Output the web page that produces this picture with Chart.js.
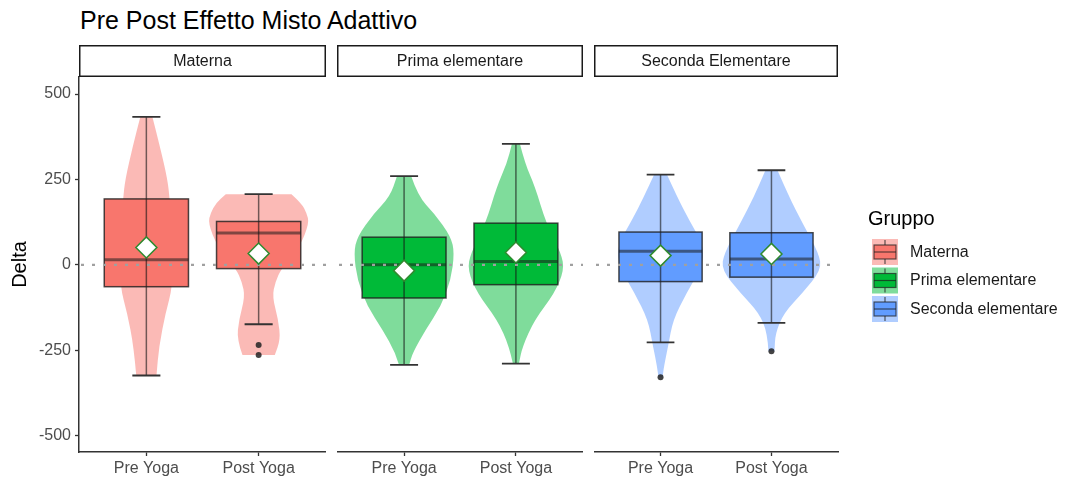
<!DOCTYPE html>
<html>
<head>
<meta charset="utf-8">
<script src="https://cdn.jsdelivr.net/npm/chart.js@4.4.1/dist/chart.umd.min.js"></script>
<style>
  body { margin: 0; background: #fff; font-family: "Liberation Sans", Arial, sans-serif; }
  #wrap { position: relative; width: 1071px; height: 484px; overflow: hidden; }
  #title { position: absolute; left: 80px; top: 6px; font-size: 25px; color: #000; white-space: nowrap; }
  canvas { position: absolute; top: 45px; }
</style>
</head>
<body>
<div id="wrap">
  <div id="title">Pre Post Effetto Misto Adattivo</div>
  <canvas id="c0" width="326" height="439" style="left:0px"></canvas>
  <canvas id="c1" width="246" height="439" style="left:337px"></canvas>
  <canvas id="c2" width="477" height="439" style="left:594px"></canvas>
</div>
<script>
const facets = ["Materna", "Prima elementare", "Seconda Elementare"];
const legendLabels = ["Materna", "Prima elementare", "Seconda elementare"];
const phases = ["Pre Yoga", "Post Yoga"];
const yTicks = [-500, -250, 0, 250, 500];

const colors = ["#F8766D", "#00BA38", "#619CFF"];
const violinColors = ["rgba(248,118,109,0.5)", "rgba(0,186,56,0.5)", "rgba(97,156,255,0.5)"];

// boxplot stats, per group: [Pre Yoga, Post Yoga]
const lowWhisker = [[-324, -174], [-293, -289], [-227, -170]];
const q1 = [[-64, -11], [-97, -58], [-49, -36]];
const median = [[15, 93], [0, 10], [40, 17]];
const q3 = [[193, 127], [81, 122], [96, 94]];
const highWhisker = [[433, 207], [260, 354], [264, 277]];
const means = [[51, 33], [-17, 36], [27, 32]];
const outliers = [[[], [-235, -264]], [[], []], [[-329], [-253]]];

// violin outline: y values and relative density (1 = widest violin)
const violinY = [
  [[433, 346, 249, 193, 120, 60, -64, -141, -239, -324],
   [207, 180, 152, 122, 54, -11, -50, -93, -161, -219, -264]],
  [[260, 200, 151, 83, 35, -44, -122, -190, -258, -293],
   [354, 297, 229, 122, 34, -15, -83, -161, -239, -289]],
  [[264, 200, 132, 54, -5, -83, -161, -239, -297, -329],
   [277, 200, 122, 34, -15, -83, -141, -200, -253]]
];
const violinD = [
  [[0.12, 0.27, 0.42, 0.46, 0.5, 0.52, 0.52, 0.38, 0.25, 0.2],
   [0.65, 0.85, 0.95, 1.0, 0.82, 0.45, 0.33, 0.27, 0.39, 0.43, 0.32]],
  [[0.14, 0.28, 0.6, 0.93, 1.0, 0.93, 0.73, 0.43, 0.17, 0.1],
   [0.08, 0.18, 0.38, 0.6, 0.9, 0.96, 0.77, 0.37, 0.13, 0.06]],
  [[0.13, 0.33, 0.57, 0.87, 0.83, 0.52, 0.25, 0.15, 0.07, 0.04],
   [0.12, 0.35, 0.62, 0.95, 1.0, 0.62, 0.25, 0.08, 0.06]]
];

Chart.defaults.font.family = '"Liberation Sans", Arial, sans-serif';

// smooth curve through points (first point already reached)
function smoothThrough(ctx, pts) {
  ctx.lineTo(pts[0].x, pts[0].y);
  for (let i = 1; i < pts.length - 1; i++) {
    const mx = (pts[i].x + pts[i + 1].x) / 2;
    const my = (pts[i].y + pts[i + 1].y) / 2;
    ctx.quadraticCurveTo(pts[i].x, pts[i].y, mx, my);
  }
  const last = pts[pts.length - 1];
  ctx.lineTo(last.x, last.y);
}

const facetPlugin = {
  id: "facet",
  beforeDatasetsDraw(chart, args, opts) {
    const g = opts.group;
    const { ctx, chartArea, scales: { x, y } } = chart;
    const unit = x.getPixelForValue(1) - x.getPixelForValue(0);
    ctx.save();
    for (let p = 0; p < 2; p++) {
      const cx = x.getPixelForValue(p + 1);
      // violin
      const hw = 0.45 * unit;
      const ys = violinY[g][p], ds = violinD[g][p];
      const right = ys.map((v, i) => ({ x: cx + ds[i] * hw, y: y.getPixelForValue(v) }));
      const left = ys.map((v, i) => ({ x: cx - ds[i] * hw, y: y.getPixelForValue(v) })).reverse();
      ctx.beginPath();
      ctx.moveTo(left[left.length - 1].x, left[left.length - 1].y);
      smoothThrough(ctx, right);
      smoothThrough(ctx, left);
      ctx.closePath();
      ctx.fillStyle = violinColors[g];
      ctx.fill();

      // box
      const bw = 0.375 * unit;
      const top = y.getPixelForValue(q3[g][p]);
      const bot = y.getPixelForValue(q1[g][p]);
      ctx.fillStyle = colors[g];
      ctx.fillRect(cx - bw, top, 2 * bw, bot - top);

      // median
      const my = y.getPixelForValue(median[g][p]);
      ctx.strokeStyle = "rgba(30,30,30,0.55)";
      ctx.lineWidth = 3;
      ctx.beginPath();
      ctx.moveTo(cx - bw, my);
      ctx.lineTo(cx + bw, my);
      ctx.stroke();

      // whisker line
      const wl = y.getPixelForValue(lowWhisker[g][p]);
      const wh = y.getPixelForValue(highWhisker[g][p]);
      ctx.strokeStyle = "rgba(20,20,20,0.6)";
      ctx.lineWidth = 1.5;
      ctx.beginPath();
      ctx.moveTo(cx, wl);
      ctx.lineTo(cx, wh);
      ctx.stroke();

      // box outline
      ctx.strokeStyle = "rgba(30,30,30,0.8)";
      ctx.lineWidth = 1.5;
      ctx.strokeRect(cx - bw, top, 2 * bw, bot - top);

      // caps
      const cw = 0.125 * unit;
      ctx.strokeStyle = "#333";
      ctx.lineWidth = 1.8;
      ctx.beginPath();
      ctx.moveTo(cx - cw, wl); ctx.lineTo(cx + cw, wl);
      ctx.moveTo(cx - cw, wh); ctx.lineTo(cx + cw, wh);
      ctx.stroke();
    }
    // zero reference line
    const zy = y.getPixelForValue(0);
    ctx.strokeStyle = "#a0a0a0";
    ctx.lineWidth = 2.2;
    ctx.setLineDash([3, 8]);
    ctx.beginPath();
    ctx.moveTo(chartArea.left + 2, zy);
    ctx.lineTo(chartArea.right, zy);
    ctx.stroke();
    ctx.restore();
  },
  afterDraw(chart, args, opts) {
    const g = opts.group;
    const { ctx, chartArea } = chart;
    ctx.save();
    // facet strip
    ctx.fillStyle = "#fff";
    ctx.strokeStyle = "#1a1a1a";
    ctx.lineWidth = 1.5;
    ctx.fillRect(chartArea.left + 0.75, chartArea.top - 31.25, chartArea.width - 1.5, 30.5);
    ctx.strokeRect(chartArea.left + 0.75, chartArea.top - 31.25, chartArea.width - 1.5, 30.5);
    ctx.fillStyle = "#1a1a1a";
    ctx.font = '16px "Liberation Sans", Arial, sans-serif';
    ctx.textAlign = "center";
    ctx.textBaseline = "middle";
    ctx.fillText(facets[g], (chartArea.left + chartArea.right) / 2, chartArea.top - 15.5);

    // legend (last panel only)
    if (g === 2) {
      const lx = chartArea.right + 30;
      ctx.textAlign = "left";
      ctx.fillStyle = "#000";
      ctx.font = '20px "Liberation Sans", Arial, sans-serif';
      ctx.fillText("Gruppo", lx, 174);
      ctx.font = '16px "Liberation Sans", Arial, sans-serif';
      for (let i = 0; i < 3; i++) {
        const kx = lx + 4, ky = 194 + i * 28.5;
        ctx.fillStyle = violinColors[i];
        ctx.fillRect(kx, ky, 26, 26);
        ctx.strokeStyle = "rgba(30,30,30,0.7)";
        ctx.lineWidth = 1.2;
        ctx.beginPath();
        ctx.moveTo(kx + 13, ky + 1); ctx.lineTo(kx + 13, ky + 6);
        ctx.moveTo(kx + 13, ky + 20); ctx.lineTo(kx + 13, ky + 25);
        ctx.stroke();
        ctx.fillStyle = colors[i];
        ctx.fillRect(kx + 2, ky + 6, 22, 14);
        ctx.strokeRect(kx + 2, ky + 6, 22, 14);
        ctx.beginPath();
        ctx.moveTo(kx + 2, ky + 13); ctx.lineTo(kx + 24, ky + 13);
        ctx.stroke();
        ctx.fillStyle = "#1a1a1a";
        ctx.fillText(legendLabels[i], lx + 42, ky + 13.5);
      }
    }
    ctx.restore();
  }
};

function makeChart(g) {
  const outlierPts = [];
  outliers[g].forEach((list, p) => list.forEach(v => outlierPts.push({ x: p + 1, y: v })));
  return new Chart(document.getElementById("c" + g), {
    type: "scatter",
    data: {
      datasets: [
        {
          data: means[g].map((m, p) => ({ x: p + 1, y: m })),
          pointStyle: "rectRot",
          pointRadius: 10.5,
          backgroundColor: "#fff",
          borderColor: "#2f8a2f",
          borderWidth: 1.5
        },
        {
          data: outlierPts,
          pointRadius: 3,
          backgroundColor: "rgba(35,35,35,0.85)",
          borderWidth: 0
        }
      ]
    },
    options: {
      responsive: false,
      animation: false,
      devicePixelRatio: 1,
      layout: { autoPadding: false, padding: { top: 32, right: g === 2 ? 233 : 0, left: 0, bottom: 0 } },
      plugins: {
        legend: { display: false },
        tooltip: { enabled: false },
        facet: { group: g }
      },
      scales: {
        x: {
          type: "linear",
          min: 0.4,
          max: 2.6,
          afterBuildTicks: s => { s.ticks = [{ value: 1 }, { value: 2 }]; },
          afterFit: s => { s.height = 32; s.paddingLeft = 0; s.paddingRight = 0; },
          ticks: { callback: v => phases[v - 1], color: "#4d4d4d", font: { size: 16 }, padding: 3, maxRotation: 0, autoSkip: false },
          grid: { drawOnChartArea: false, tickLength: 4, tickColor: "#333", tickWidth: 1.3 },
          border: { color: "#333", width: 1.5 }
        },
        y: {
          type: "linear",
          min: -548,
          max: 550,
          display: g === 0,
          afterBuildTicks: s => { s.ticks = yTicks.map(v => ({ value: v })); },
          afterFit: s => { s.width = g === 0 ? 79 : 0; s.paddingTop = 0; s.paddingBottom = 0; },
          ticks: { color: "#4d4d4d", font: { size: 16 }, padding: 4 },
          grid: { drawOnChartArea: false, tickLength: 4, tickColor: "#333", tickWidth: 1.3 },
          border: { display: true, color: "#333", width: 1.5 },
          title: { display: true, text: "Delta", color: "#000", font: { size: 20 }, padding: { top: 8, bottom: 0 } }
        }
      }
    },
    plugins: [facetPlugin]
  });
}

[0, 1, 2].forEach(makeChart);
</script>
</body>
</html>
